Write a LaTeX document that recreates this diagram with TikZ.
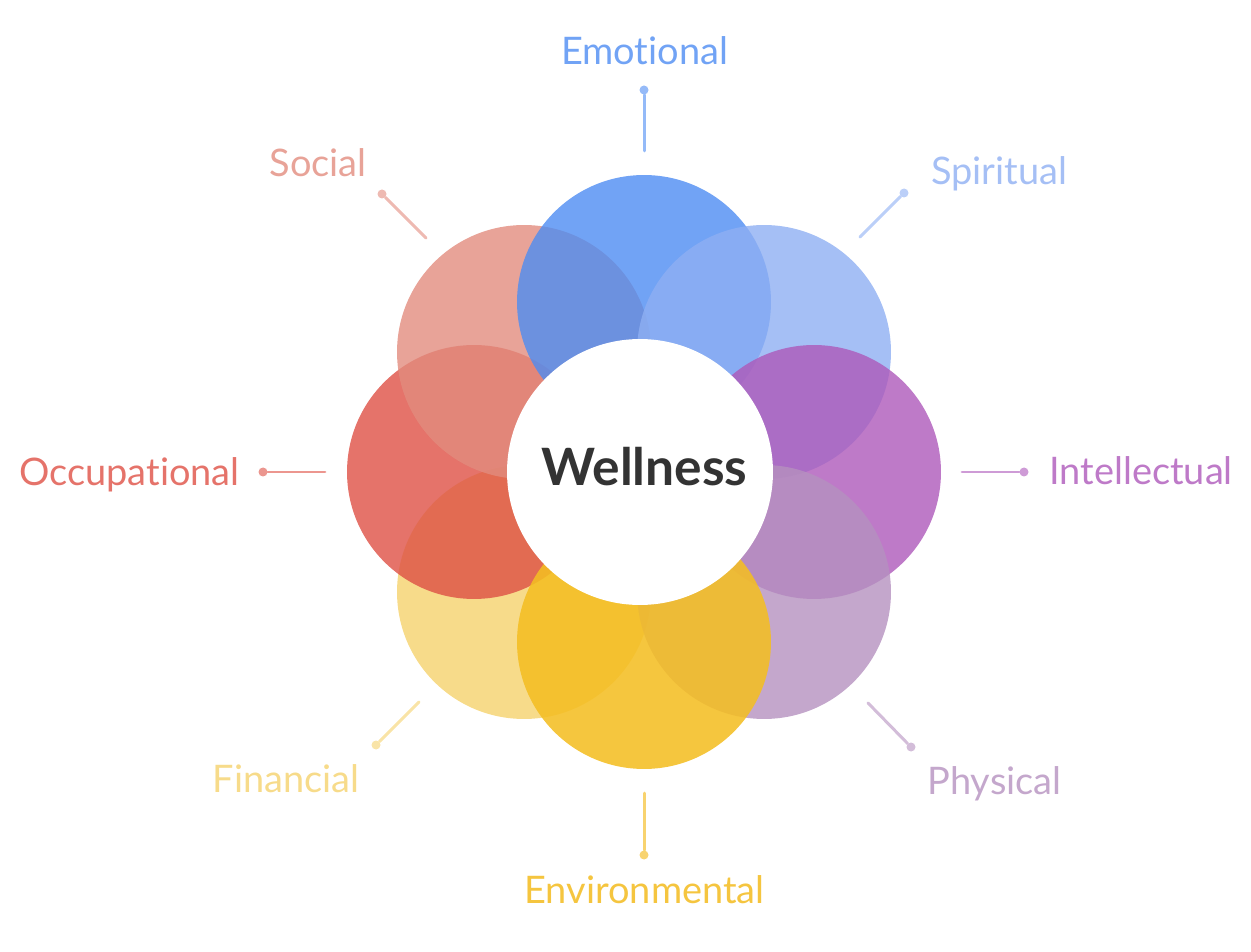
\documentclass[tikz,border=0pt]{standalone}
\usepackage{fontspec}
\setmainfont{Lato}[Ligatures=NoCommon]
\usepackage{tikz}

% label colours (as printed) and fill colours (seen through opacity)
\definecolor{emotional}{RGB}{113,163,245}
\definecolor{spiritual}{RGB}{165,191,245}
\definecolor{intellectual}{RGB}{190,122,200}
\definecolor{physical}{RGB}{196,167,204}
\definecolor{environmental}{RGB}{245,197,63}
\definecolor{financial}{RGB}{247,219,138}
\definecolor{occupational}{RGB}{229,115,106}
\definecolor{social}{RGB}{232,163,152}
\definecolor{emotionalfill}{RGB}{78,140,242}
\definecolor{spiritualfill}{RGB}{142,175,242}
\definecolor{intellectualfill}{RGB}{174,89,186}
\definecolor{physicalfill}{RGB}{181,145,191}
\definecolor{environmentalfill}{RGB}{244,190,35}
\definecolor{financialfill}{RGB}{245,210,109}
\definecolor{occupationalfill}{RGB}{222,80,69}
\definecolor{socialfill}{RGB}{226,140,126}
\definecolor{wellink}{RGB}{51,51,51}

\tikzset{
  petal/.style={circle, inner sep=0pt, minimum size=5.08cm, fill opacity=0.8},
  core/.style={circle, inner sep=0pt, minimum size=5.32cm, fill=white},
  spoke/.style={line width=1.7pt, line cap=round},
  tip/.style={circle, inner sep=0pt, minimum size=0.18cm},
  lbl/.style={font=\fontsize{21.6}{26}\selectfont, inner sep=0pt}
}

\begin{document}
\begin{tikzpicture}[x=0.02cm, y=-0.02cm]
\useasboundingbox (0,0) rectangle (1251,952);

% petals, from the bottom layer up
\node[petal, fill=financialfill] (financialP) at (524,592) {};
\node[petal, fill=occupationalfill] (occupationalP) at (474,472) {};
\node[petal, fill=socialfill] (socialP) at (524,352) {};
\node[petal, fill=emotionalfill] (emotionalP) at (644,302) {};
\node[petal, fill=spiritualfill] (spiritualP) at (764,352) {};
\node[petal, fill=intellectualfill] (intellectualP) at (814,472) {};
\node[petal, fill=physicalfill] (physicalP) at (764,592) {};
\node[petal, fill=environmentalfill, fill opacity=0.88] (environmentalP) at (644,642) {};

\node[core] (core) at (640,472) {};
\node[anchor=base, inner sep=0pt, text=wellink, font=\fontsize{29.3}{34}\selectfont\bfseries] (wellness) at (644.5,486) {Wellness};

% spokes
\coordinate (emotionalA) at (644,151);
\coordinate (spiritualA) at (860,237);
\coordinate (intellectualA) at (962,472);
\coordinate (physicalA) at (868,703);
\coordinate (environmentalA) at (644,793);
\coordinate (financialA) at (419,702);
\coordinate (occupationalA) at (325,472);
\coordinate (socialA) at (426,238);

\node[tip, fill=emotional!75!white] (emotionalB) at (644,90) {};
\node[tip, fill=spiritual!75!white] (spiritualB) at (904,193) {};
\node[tip, fill=intellectual!75!white] (intellectualB) at (1024,472) {};
\node[tip, fill=physical!75!white] (physicalB) at (911,747) {};
\node[tip, fill=environmental!75!white] (environmentalB) at (644,855) {};
\node[tip, fill=financial!75!white] (financialB) at (376,745) {};
\node[tip, fill=occupational!75!white] (occupationalB) at (263,472) {};
\node[tip, fill=social!75!white] (socialB) at (382,194) {};

\draw[spoke, emotional!75!white] (emotionalA) -- (emotionalB);
\draw[spoke, spiritual!75!white] (spiritualA) -- (spiritualB);
\draw[spoke, intellectual!75!white] (intellectualA) -- (intellectualB);
\draw[spoke, physical!75!white] (physicalA) -- (physicalB);
\draw[spoke, environmental!75!white] (environmentalA) -- (environmentalB);
\draw[spoke, financial!75!white] (financialA) -- (financialB);
\draw[spoke, occupational!75!white] (occupationalA) -- (occupationalB);
\draw[spoke, social!75!white] (socialA) -- (socialB);

% labels
\node[lbl, anchor=base, text=emotional] (emotionalL) at (644.5,65) {Emotional};
\node[lbl, anchor=base west, text=spiritual] (spiritualL) at (931,185) {Spiritual};
\node[lbl, anchor=base west, text=intellectual] (intellectualL) at (1049,485) {Intellectual};
\node[lbl, anchor=base west, text=physical] (physicalL) at (927,794) {Physical};
\node[lbl, anchor=base, text=environmental] (environmentalL) at (644.5,903) {Environmental};
\node[lbl, anchor=base east, text=financial] (financialL) at (360,792) {Financial};
\node[lbl, anchor=base east, text=occupational] (occupationalL) at (240,486) {Occupational};
\node[lbl, anchor=base east, text=social] (socialL) at (367,177) {Social};
\end{tikzpicture}
\end{document}
